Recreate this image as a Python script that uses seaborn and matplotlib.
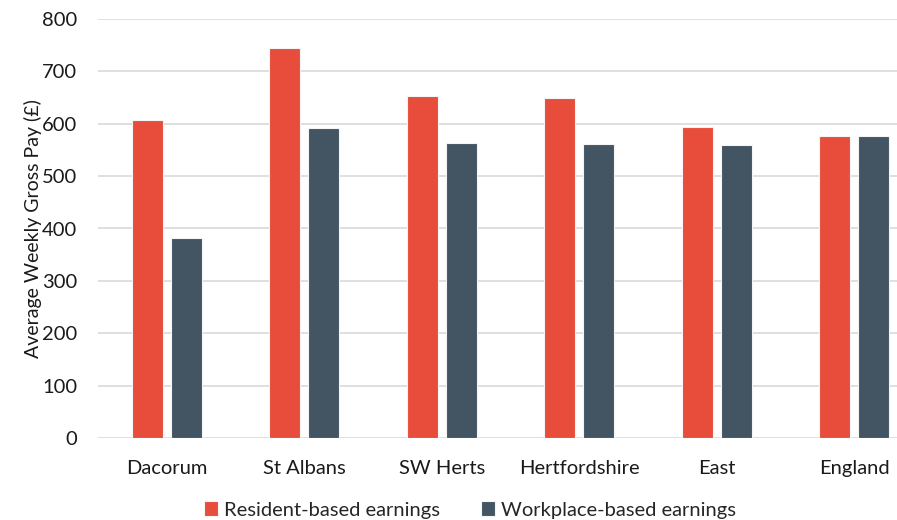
import matplotlib
matplotlib.use("Agg")
import matplotlib.pyplot as plt
import seaborn as sns
import pandas as pd

areas = ["Dacorum", "St Albans", "SW Herts", "Hertfordshire", "East", "England"]
resident = [607, 744, 653, 650, 594, 576]
workplace = [382, 591, 564, 561, 559, 576]
series = ["Resident-based earnings", "Workplace-based earnings"]
colors = ["#E84C3A", "#435563"]

df = pd.DataFrame({
    "area": areas * 2,
    "pay": resident + workplace,
    "series": [series[0]] * len(areas) + [series[1]] * len(areas),
})

sns.set_theme(style="white")
plt.rcParams["font.family"] = ["Lato", "DejaVu Sans"]

fig = plt.figure(figsize=(8.97, 5.2), dpi=100)
ax = fig.add_axes([98 / 897, 1 - 438 / 520, 825 / 897, 419 / 520])

sns.barplot(data=df, x="area", y="pay", hue="series", palette=colors,
            saturation=1, width=0.567, gap=0.21, ax=ax,
            edgecolor="#f4f4f4", linewidth=0.8, legend=True)

ax.set_ylim(0, 800)
ax.set_yticks(range(0, 801, 100))
ax.set_xlim(-0.5, len(areas) - 0.5)
ax.yaxis.grid(True, color="#d9d9d9", linewidth=1.2)
ax.set_axisbelow(True)
for s in ax.spines.values():
    s.set_visible(False)
ax.tick_params(axis="both", length=0, labelsize=14.5, colors="#1a1a1a")
ax.tick_params(axis="x", pad=16)
ax.tick_params(axis="y", pad=15)
ax.set_xlabel("")
ax.set_ylabel("Average Weekly Gross Pay (£)", fontsize=14, color="#1a1a1a", labelpad=0)

handles, labels = ax.get_legend_handles_labels()
ax.legend_.remove()
fig.legend(handles, labels, loc="center", bbox_to_anchor=(470 / 897, 1 - 510 / 520),
           ncol=2, frameon=False, fontsize=14.5, handlelength=0.7, handleheight=0.7,
           handletextpad=0.3, columnspacing=2.0)

fig.savefig("out.png", dpi=100)
